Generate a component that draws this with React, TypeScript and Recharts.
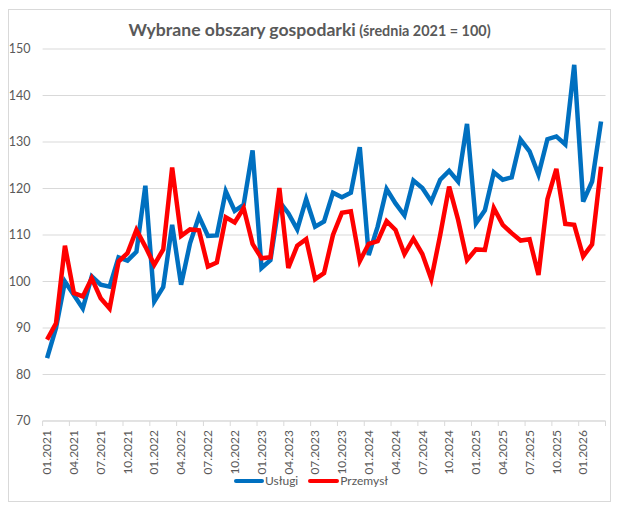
import { CartesianGrid, Line, LineChart, XAxis, YAxis } from "recharts";

const USLUGI_COLOR = "#0070C0";
const PRZEMYSL_COLOR = "#FF0000";
const TEXT_COLOR = "#595959";
const GRID_COLOR = "#d9d9d9";
const FONT = "Lato, 'Open Sans', sans-serif";

const W = 621;
const H = 511;
const PLOT_LEFT = 42.6;
const PLOT_RIGHT = 605.5;
const BAND = (PLOT_RIGHT - PLOT_LEFT) / 63;

// 01.2021 .. 03.2026, monthly
const years = [2021, 2022, 2023, 2024, 2025, 2026];
const months = ["01", "02", "03", "04", "05", "06", "07", "08", "09", "10", "11", "12"];
const categories: string[] = [];
years.forEach((y) =>
  months.forEach((m) => {
    if (y === 2026 && Number(m) > 3) return;
    categories.push(`${m}.${y}`);
  })
);

const uslugi = [
  83.5, 90.0, 100.0, 97.1, 94.2, 101.1, 99.3, 98.9, 105.2, 104.5, 106.4, 120.6,
  95.7, 98.8, 112.2, 99.3, 108.2, 114.0, 109.8, 109.9, 119.4, 115.2, 116.5, 128.2,
  102.9, 104.6, 117.2, 114.7, 111.2, 117.7, 111.8, 112.9, 119.1, 118.1, 119.1, 128.9,
  105.7, 111.8, 119.9, 116.8, 114.2, 121.7, 120.1, 117.2, 121.9, 123.8, 121.5, 133.9,
  112.5, 115.3, 123.5, 121.9, 122.4, 130.5, 128.0, 123.0, 130.6, 131.2, 129.5, 146.6,
  117.2, 121.5, 134.4,
];

const przemysl = [
  87.5, 91.0, 107.7, 97.5, 96.8, 100.7, 96.4, 94.2, 104.3, 106.1, 111.1, 107.5,
  103.6, 106.9, 124.5, 109.8, 111.2, 111.0, 103.2, 104.1, 113.8, 112.7, 115.8, 108.1,
  105.0, 105.2, 120.1, 102.9, 107.7, 109.1, 100.5, 101.8, 110.0, 114.8, 115.1, 104.4,
  108.1, 108.7, 113.0, 111.1, 105.9, 109.2, 105.9, 100.5, 110.0, 120.4, 113.3, 104.6,
  106.9, 106.8, 115.8, 112.2, 110.4, 108.8, 109.1, 101.4, 117.7, 124.2, 112.4, 112.2,
  105.4, 108.0, 124.7,
];

const yTicks = [70, 80, 90, 100, 110, 120, 130, 140, 150];

const data = categories.map((month, i) => ({
  month,
  "Usługi": uslugi[i],
  "Przemysł": przemysl[i],
}));

// rotated month label + tick mark on the category boundary (Excel style)
function MonthTick(props: any) {
  const { x, y, payload } = props;
  const last = payload.value === categories[categories.length - 3];
  return (
    <g>
      <line x1={x - BAND / 2} x2={x - BAND / 2} y1={y} y2={y + 5} stroke={GRID_COLOR} />
      {last && (
        <line
          x1={x + BAND * 2.5}
          x2={x + BAND * 2.5}
          y1={y}
          y2={y + 5}
          stroke={GRID_COLOR}
        />
      )}
      <text
        x={0}
        y={0}
        dy="0.35em"
        transform={`translate(${x},${y + 9}) rotate(-90)`}
        textAnchor="end"
        fill={TEXT_COLOR}
        fontSize={12}
        fontFamily={FONT}
      >
        {payload.value}
      </text>
    </g>
  );
}

export default function App() {
  return (
    <div
      style={{
        position: "absolute",
        left: 0,
        top: 0,
        width: W,
        height: H,
        background: "#fff",
        fontFamily: FONT,
      }}
    >
      <div
        style={{
          position: "absolute",
          left: 8,
          top: 9,
          width: 603,
          height: 493,
          border: `1px solid ${GRID_COLOR}`,
          boxSizing: "border-box",
        }}
      />
      <div
        style={{
          position: "absolute",
          left: 8,
          top: 20,
          width: 603,
          textAlign: "center",
          color: TEXT_COLOR,
          fontWeight: 700,
          lineHeight: "20px",
          whiteSpace: "nowrap",
        }}
      >
        <span style={{ fontSize: 17.6 }}>Wybrane obszary gospodarki</span>
        <span style={{ fontSize: 14.4 }}> (średnia 2021 = 100)</span>
      </div>

      <div style={{ position: "absolute", left: 0, top: 0 }}>
        <LineChart
          width={W}
          height={H}
          data={data}
          margin={{ top: 49, right: W - PLOT_RIGHT, left: 0, bottom: 0 }}
        >
          <CartesianGrid stroke={GRID_COLOR} vertical={false} />
          <XAxis
            dataKey="month"
            height={90}
            interval={2}
            padding={{ left: BAND / 2, right: BAND / 2 }}
            tickSize={0}
            tickMargin={0}
            tickLine={false}
            axisLine={{ stroke: GRID_COLOR }}
            tick={<MonthTick />}
          />
          <YAxis
            width={PLOT_LEFT}
            domain={[70, 150]}
            ticks={yTicks}
            interval={0}
            tickSize={0}
            tickMargin={12}
            axisLine={false}
            tickLine={false}
            tick={{ fill: TEXT_COLOR, fontSize: 12.5, fontFamily: FONT }}
          />
          <Line
            type="linear"
            dataKey="Usługi"
            stroke={USLUGI_COLOR}
            strokeWidth={4.5}
            dot={false}
            isAnimationActive={false}
          />
          <Line
            type="linear"
            dataKey="Przemysł"
            stroke={PRZEMYSL_COLOR}
            strokeWidth={4.5}
            dot={false}
            isAnimationActive={false}
          />
        </LineChart>
      </div>

      {/* Excel-like legend under the axis */}
      <div
        style={{
          position: "absolute",
          left: 234,
          top: 474,
          display: "flex",
          alignItems: "center",
          fontSize: 12,
          lineHeight: "14px",
          color: TEXT_COLOR,
          whiteSpace: "nowrap",
        }}
      >
        <span
          style={{
            display: "inline-block",
            width: 30,
            height: 4.5,
            borderRadius: 3,
            background: USLUGI_COLOR,
            marginRight: 1,
          }}
        />
        <span style={{ marginRight: 10 }}>Usługi</span>
        <span
          style={{
            display: "inline-block",
            width: 31,
            height: 4.5,
            borderRadius: 3,
            background: PRZEMYSL_COLOR,
            marginRight: 1,
          }}
        />
        <span>Przemysł</span>
      </div>
    </div>
  );
}
